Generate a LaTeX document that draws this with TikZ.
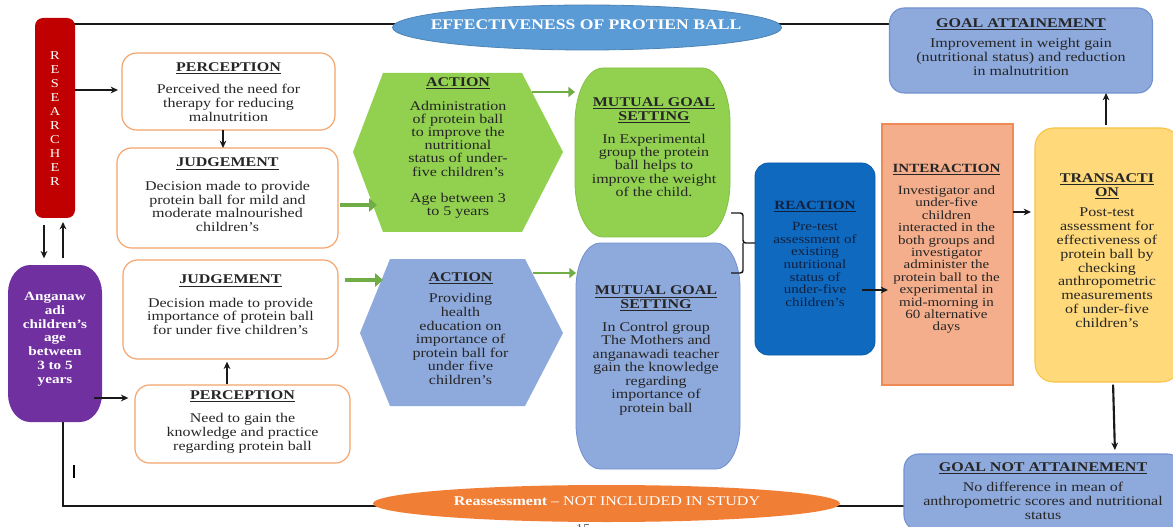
\documentclass[tikz,border=0pt]{standalone}
\usepackage{fontspec}
\setmainfont{Liberation Serif}[FakeStretch=1.2]
\usetikzlibrary{arrows.meta,shapes.geometric}
\pgfdeclarelayer{bg}
\pgfsetlayers{bg,main}
\definecolor{txt}{HTML}{262626}
\definecolor{redr}{HTML}{C00000}
\definecolor{blueell}{HTML}{5B9BD5}
\definecolor{lav}{HTML}{8EA9DB}
\definecolor{lavd}{HTML}{7191CF}
\definecolor{orb}{HTML}{F4A46C}
\definecolor{grn}{HTML}{92D050}
\definecolor{grnd}{HTML}{84C046}
\definecolor{garrc}{HTML}{70AD47}
\definecolor{reac}{HTML}{0F69BF}
\definecolor{reacd}{HTML}{0B5CA8}
\definecolor{reat}{HTML}{10213F}
\definecolor{intf}{HTML}{F4AE8C}
\definecolor{intd}{HTML}{ED8A55}
\definecolor{trf}{HTML}{FFD97A}
\definecolor{trd}{HTML}{F9C446}
\definecolor{purp}{HTML}{7030A0}
\definecolor{oran}{HTML}{F07F35}
\newcommand\hd[1]{\underline{\textbf{#1}}}
\newcommand\blobshape[7]{%
  \path[#7] (#1+#5,#2) -- (#3-#5,#2)
    .. controls (#3-0.45*#5,#2) and (#3,#2+0.45*#6) .. (#3,#2+#6)
    -- (#3,#4-#6)
    .. controls (#3,#4-0.45*#6) and (#3-0.45*#5,#4) .. (#3-#5,#4)
    -- (#1+#5,#4)
    .. controls (#1+0.45*#5,#4) and (#1,#4-0.45*#6) .. (#1,#4-#6)
    -- (#1,#2+#6)
    .. controls (#1,#2+0.45*#6) and (#1+0.45*#5,#2) .. (#1+#5,#2) -- cycle;}
\tikzset{
  sz/.style 2 args={minimum width={#1*0.75pt}, minimum height={#2*0.75pt}},
  shp/.style={inner sep=0pt, outer sep=0pt},
  body/.style={align=center, text=txt, inner sep=0pt, font=\fontsize{10}{10.4}\selectfont},
  wbox/.style={shp, draw=orb, line width=0.9pt, fill=white, rounded corners=11pt},
  ln/.style={draw=black!90, line width=1.1pt},
  arr/.style={ln, -{Stealth[length=5.5pt,width=5pt]}},
  garr/.style={draw=garrc, line width=3.2pt, -{Triangle[length=6pt,width=10pt]}},
  sgarr/.style={draw=garrc, line width=2.2pt, -{Triangle[length=5pt,width=7.5pt]}},
}
\begin{document}
\begin{tikzpicture}[x=0.75pt,y=-0.75pt]
\useasboundingbox (0,0) rectangle (1173,527);
\clip (0,0) rectangle (1173,527);

% ---------- shapes ----------
\node[shp, sz={40}{200}, fill=redr, rounded corners=6pt] (res) at (55,118) {};
\node[align=center, text=white, inner sep=0pt, font=\fontsize{9}{10.45}\selectfont] (resT) at (55,118.5) {R\\E\\S\\E\\A\\R\\C\\H\\E\\R};

\blobshape{8}{265}{102}{422}{22}{28}{fill=purp}
\node[shp, sz={94}{157}] (pur) at (55,343.5) {};
\node[align=center, text=white, inner sep=0pt, font=\bfseries\fontsize{9.5}{10.3}\selectfont] (purT) at (55,339) {Anganaw\\adi\\children’s\\age\\between\\3 to 5\\years};

\node[wbox, sz={213}{77}] (perc1) at (228.5,91.5) {};
\node[body] (perc1T) at (228.5,92) {\hd{PERCEPTION}\\[6pt]Perceived the need for\\therapy for reducing\\malnutrition};

\node[wbox, sz={221}{100}] (judg1) at (227.5,198) {};
\node[body] (judg1T) at (227.5,195) {\hd{JUDGEMENT}\\[7pt]Decision made to provide\\protein ball for mild and\\moderate malnourished\\children’s};

\node[wbox, sz={215}{99}] (judg2) at (230.5,309.5) {};
\node[body] (judg2T) at (230.5,305) {\hd{JUDGEMENT}\\[7pt]Decision made to provide\\importance of protein ball\\for under five children’s};

\node[wbox, sz={215}{78}] (perc2) at (242.5,424) {};
\node[body] (perc2T) at (242.5,422) {\hd{PERCEPTION}\\[7pt]Need to gain the\\knowledge and practice\\regarding protein ball};

\fill[grn] (383,73) -- (522,73) -- (563,152) -- (522,232) -- (383,232) -- (353,152) -- cycle;
\node[shp, sz={210}{159}] (act1) at (458,152.5) {};
\node[body, font=\fontsize{10}{9.9}\selectfont] (act1T) at (458,148) {\hd{ACTION}\\[8pt]Administration\\of protein ball\\to improve the\\nutritional\\status of under-\\five children’s\\[10pt]Age between 3\\to 5 years};

\fill[lav] (390,259) -- (525,259) -- (563,333) -- (525,406) -- (390,406) -- (360,333) -- cycle;
\node[shp, sz={203}{147}] (act2) at (461.5,332.5) {};
\node[body, font=\fontsize{10}{10.2}\selectfont] (act2T) at (460.5,328.5) {\hd{ACTION}\\[6pt]Providing\\health\\education on\\importance of\\protein ball for\\under five\\children’s};

\blobshape{575}{68}{730}{237}{28}{55}{fill=grn, draw=grnd, line width=0.6pt}
\node[shp, sz={155}{169}] (mut1) at (652.5,152.5) {};
\node[body, font=\fontsize{10}{10.1}\selectfont] (mut1T) at (654,147.5) {\hd{MUTUAL GOAL}\\\hd{SETTING}\\[7pt]In Experimental\\group the protein\\ball helps to\\improve the weight\\of the child.};

\blobshape{576}{243}{740}{469}{24}{45}{fill=lav, draw=lavd, line width=0.6pt}
\node[shp, sz={164}{226}] (mut2) at (658,356) {};
\node[body, font=\fontsize{10}{10.1}\selectfont] (mut2T) at (656,350.5) {\hd{MUTUAL GOAL}\\\hd{SETTING}\\[7pt]In Control group\\The Mothers and\\anganawadi teacher\\gain the knowledge\\regarding\\importance of\\protein ball};

\node[shp, sz={120}{192}, fill=reac, draw=reacd, line width=0.6pt, rounded corners=10pt] (react) at (815,259) {};
\node[body, text=reat, font=\fontsize{9.4}{9.4}\selectfont] (reactT) at (815,253.5) {\hd{REACTION}\\[7pt]Pre-test\\assessment of\\existing\\nutritional\\status of\\under-five\\children’s};

\node[shp, sz={131}{261}, fill=intf, draw=intd, line width=0.8pt] (inter) at (947.5,254.5) {};
\node[body, font=\fontsize{9.4}{9.3}\selectfont] (interT) at (946.5,249) {\hd{INTERACTION}\\[7pt]Investigator and\\under-five\\children\\interacted in the\\both groups and\\investigator\\administer the\\protein ball to the\\experimental in\\mid-morning in\\60 alternative\\days};

\node[shp, sz={145}{254}, fill=trf, draw=trd, line width=0.8pt, rounded corners=14pt] (trans) at (1107.5,255) {};
\node[body] (transT) at (1107,250.5) {\hd{TRANSACTI}\\\hd{ON}\\[5pt]Post-test\\assessment for\\effectiveness of\\protein ball by\\checking\\anthropometric\\measurements\\of under-five\\children’s};

\node[shp, sz={263}{85}, fill=lav, draw=lavd, line width=0.8pt, rounded corners=11pt] (goal) at (1021,50.5) {};
\node[body] (goalT) at (1021,47) {\hd{GOAL ATTAINEMENT}\\[4.5pt]Improvement in weight gain\\(nutritional status) and reduction\\in malnutrition};

\node[shp, sz={278}{76}, fill=lav, draw=lavd, line width=0.8pt, rounded corners=11pt] (goalnot) at (1043,492) {};
\node[body] (goalnotT) at (1043,491) {\hd{GOAL NOT ATTAINEMENT}\\[5pt]No difference in mean of\\anthropometric scores and nutritional\\status};

\node[shp, ellipse, sz={389}{45}, fill=blueell, draw=blueell!85!black, line width=0.6pt] (topell) at (587,27.5) {};
\node[text=white, inner sep=0pt, font=\bfseries\fontsize{11}{12}\selectfont] (topellT) at (586,24.5) {EFFECTIVENESS OF PROTIEN BALL};

\node[shp, ellipse, sz={467}{37}, fill=oran] (botell) at (606.5,503.5) {};
\node[text=white, inner sep=0pt, font=\fontsize{10}{12}\selectfont] (botellT) at (607,501.5) {\textbf{Reassessment} – NOT INCLUDED IN STUDY};

\node[text=black!65, inner sep=0pt, font=\fontsize{9}{9}\selectfont] (pg) at (583,529) {15};

% ---------- connectors behind shapes ----------
\begin{pgfonlayer}{bg}
\fill[white] (0,0) rectangle (1173,527);
\draw[ln] (res.center |- 0,24) -- (topell.center |- 0,24);
\draw[ln] (topell.center |- 0,24) -- (goal.center |- 0,24);
\draw[ln] (goalnot.center |- 0,506) -- (botell.center |- 0,506);
\draw[ln] (botell.center |- 0,506) -| (pur.center -| 63,0);
\end{pgfonlayer}

% ---------- arrows ----------
\draw[arr, shorten >=3pt] (res.east |- 0,90) -- (perc1.west |- 0,90);
\draw[arr] (perc1.south -| 223,0) -- (judg1.north -| 223,0);
\draw[arr, shorten <=5pt, shorten >=5pt] (res.south -| 44,0) -- (pur.north -| 44,0);
\draw[arr, shorten <=5pt, shorten >=3pt] (pur.north -| 63,0) -- (res.south -| 63,0);
\draw[arr, shorten <=-6pt, shorten >=5pt] (pur.east |- 0,398) -- (perc2.west |- 0,398);
\draw[arr, shorten <=1pt, shorten >=2pt] (perc2.north -| 227,0) -- (judg2.south -| 227,0);
\coordinate (a1in) at (377,205);
\coordinate (a2in) at (383,280);
\coordinate (a1out) at (532,92);
\coordinate (a2out) at (533,273);
\draw[garr, shorten <=1.5pt] (judg1.east |- a1in) -- (a1in);
\draw[garr, shorten <=5pt] (judg2.east |- a2in) -- (a2in);
\draw[sgarr] (a1out) -- (mut1.west |- a1out);
\draw[sgarr] (a2out) -- (mut2.west |- a2out);
% brace joining both goal-setting shapes to reaction
\draw[ln, rounded corners=2pt] (731,213) -| (743,243) -- (react.west |- 0,243);
\draw[ln, rounded corners=2pt] (743,243) |- (731,273);
\draw[arr, shorten <=-9.75pt, shorten >=-4.5pt] (react.east |- 0,290) -- (inter.west |- 0,290);
\draw[arr, shorten >=3pt] (inter.east |- 0,212) -- (trans.west |- 0,212);
\draw[arr, line width=1.5pt, shorten <=2pt] (trans.north -| 1106,0) -- (goal.south -| 1106,0);
\draw[arr, line width=1.6pt, shorten <=2pt, shorten >=3pt] (trans.south -| 1113,0) -- (goalnot.north -| 1115,0);
% stray mark
\draw[line width=0.8pt] (74,465) -- (74,478);
\end{tikzpicture}
\end{document}
